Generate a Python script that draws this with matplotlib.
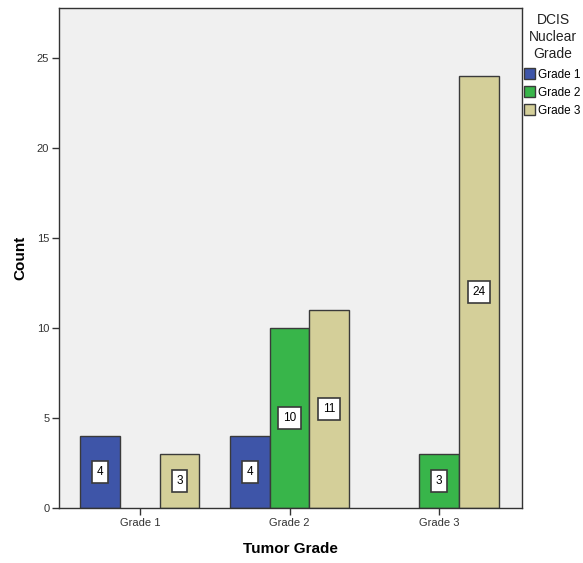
import matplotlib
matplotlib.use("Agg")
import matplotlib.pyplot as plt
from matplotlib.patches import Patch
import numpy as np

plt.rcParams["font.family"] = ["Liberation Sans", "DejaVu Sans"]

categories = ["Grade 1", "Grade 2", "Grade 3"]
series_names = ["Grade 1", "Grade 2", "Grade 3"]
grade1 = [4, 4, 0]
grade2 = [0, 10, 3]
grade3 = [3, 11, 24]
colors = ["#3e55a8", "#38b54a", "#d4cf99"]

W, H = 583, 563
fig = plt.figure(figsize=(W / 100, H / 100), dpi=100)
fig.patch.set_facecolor("white")
ax = fig.add_axes([59 / W, (H - 508) / H, (522 - 59) / W, 500 / H])
ax.set_facecolor("#f0f0f0")

x = np.arange(len(categories))
bw = 0.265
edge = "#3a3a3a"
for i, (vals, col) in enumerate(zip([grade1, grade2, grade3], colors)):
    pos = x + (i - 1) * bw
    for px, v in zip(pos, vals):
        if v <= 0:
            continue
        ax.bar(px, v, width=bw, color=col, edgecolor=edge, linewidth=1.0, zorder=2)
        ax.text(px, v / 2, str(v), ha="center", va="center", fontsize=8.5,
                color="black", zorder=3,
                bbox=dict(boxstyle="square,pad=0.4", facecolor="white",
                          edgecolor=edge, linewidth=1.2))

ax.set_xlim(-0.54, 2.553)
ax.set_ylim(0, 27.8)
ax.set_yticks([0, 5, 10, 15, 20, 25])
ax.set_xticks(x)
ax.set_xticklabels(categories)
ax.tick_params(axis="both", labelsize=8, colors="#333333", length=5, width=1, pad=2)
for lbl in ax.get_xticklabels() + ax.get_yticklabels():
    lbl.set_color("#333333")
for s in ax.spines.values():
    s.set_color("#333333")
    s.set_linewidth(1.0)

ax.set_ylabel("Count", fontsize=11, fontweight="bold")
ax.set_xlabel("Tumor Grade", fontsize=11, fontweight="bold")
ax.yaxis.set_label_coords((20 - 59) / (522 - 59), 0.5)
ax.xaxis.set_label_coords(0.5, (508 - 549) / 500)
ax.xaxis.label.set_va("center")
ax.yaxis.label.set_va("center")

# legend
fig.text(553 / W, 1 - 37 / H, "DCIS\nNuclear\nGrade", ha="center", va="center",
         fontsize=10, color="#222222", linespacing=1.3)
handles = [Patch(facecolor=c, edgecolor=edge, linewidth=1.0, label=n)
           for c, n in zip(colors, series_names)]
fig.legend(handles=handles, loc="upper left", bbox_to_anchor=(524 / W, 1 - 68 / H),
           frameon=False, fontsize=8.5, handlelength=0.9, handleheight=1.1,
           handletextpad=0.25, labelspacing=0.45, borderaxespad=0, borderpad=0)

fig.savefig("out.png", dpi=100)
